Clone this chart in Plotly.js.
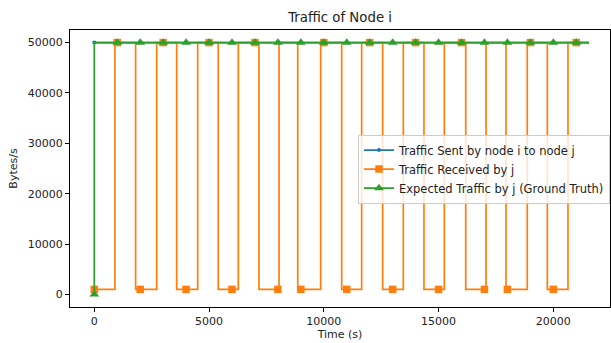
<!DOCTYPE html>
<html>
<head>
<meta charset="utf-8">
<script src="https://cdn.plot.ly/plotly-3.0.1.min.js"></script>
<style>html,body{margin:0;padding:0;background:#fff;}#chart{width:611px;height:343px;}</style>
</head>
<body>
<div id="chart"></div>
<script>
// Traffic sent by node i to node j
const sentTime = [0, 21555];
const sentValue = [50000, 50000];
const sentMarkTime = [0];
const sentMarkValue = [50000];

// Traffic received by j (step transitions)
const recvTime = [0, 900, 1800, 2720, 3590, 4505, 5400, 6275, 7175, 8050, 8865, 9865, 10780, 11650, 12565, 13465, 14365, 15250, 16185, 17070, 17940, 18865, 19740, 20640, 21555];
const recvValue = [1000, 50000, 1000, 50000, 1000, 50000, 1000, 50000, 1000, 50000, 1000, 50000, 1000, 50000, 1000, 50000, 1000, 50000, 1000, 50000, 1000, 50000, 1000, 50000, 50000];
const recvMarkTime = [0, 1000, 2000, 3000, 4000, 5000, 6000, 7000, 8000, 9000, 10000, 11000, 12000, 13000, 14000, 15000, 16000, 17000, 18000, 19000, 20000, 21000];
const recvMarkValue = [1000, 50000, 1000, 50000, 1000, 50000, 1000, 50000, 1000, 1000, 50000, 1000, 50000, 1000, 50000, 1000, 50000, 1000, 1000, 50000, 1000, 50000];

// Expected traffic by j (ground truth)
const expTime = [0, 0, 21555];
const expValue = [0, 50000, 50000];
const expMarkTime = [0, 1000, 2000, 3000, 4000, 5000, 6000, 7000, 8000, 9000, 10000, 11000, 12000, 13000, 14000, 15000, 16000, 17000, 18000, 19000, 20000, 21000];
const expMarkValue = [0, 50000, 50000, 50000, 50000, 50000, 50000, 50000, 50000, 50000, 50000, 50000, 50000, 50000, 50000, 50000, 50000, 50000, 50000, 50000, 50000, 50000];

const xTicks = [0, 5000, 10000, 15000, 20000];
const yTicks = [0, 10000, 20000, 30000, 40000, 50000];

const names = ['Traffic Sent by node i to node j', 'Traffic Received by j', 'Expected Traffic by j (Ground Truth)'];
const colors = ['#1f77b4', '#ff7f0e', '#2ca02c'];

const traces = [
  {x: sentTime, y: sentValue, mode: 'lines', line: {color: colors[0], width: 1.7}, showlegend: false},
  {x: sentMarkTime, y: sentMarkValue, mode: 'markers', marker: {color: colors[0], size: 4, symbol: 'circle'}, showlegend: false},
  {x: recvTime, y: recvValue, mode: 'lines', line: {color: colors[1], width: 1.7, shape: 'hv'}, showlegend: false},
  {x: recvMarkTime, y: recvMarkValue, mode: 'markers', marker: {color: colors[1], size: 7.5, symbol: 'square'}, showlegend: false},
  {x: expTime, y: expValue, mode: 'lines', line: {color: colors[2], width: 1.7}, showlegend: false},
  {x: expMarkTime, y: expMarkValue, mode: 'markers', marker: {color: colors[2], size: 8.5, symbol: 'triangle-up'}, showlegend: false},
  {x: [null], y: [null], name: names[0], mode: 'lines+markers', line: {color: colors[0], width: 1.7}, marker: {color: colors[0], size: 4, symbol: 'circle'}},
  {x: [null], y: [null], name: names[1], mode: 'lines+markers', line: {color: colors[1], width: 1.7}, marker: {color: colors[1], size: 7.5, symbol: 'square'}},
  {x: [null], y: [null], name: names[2], mode: 'lines+markers', line: {color: colors[2], width: 1.7}, marker: {color: colors[2], size: 8.5, symbol: 'triangle-up'}}
];

const fontC = {family: 'DejaVu Sans', size: 11, color: '#222'};

const axisCommon = {
  showgrid: false, zeroline: false, showline: true, mirror: true,
  linecolor: '#000', linewidth: 1, ticks: 'outside', ticklen: 4, tickwidth: 1, tickcolor: '#000',
  tickfont: fontC, automargin: false
};

const layout = {
  width: 611, height: 343,
  margin: {l: 70, r: 1, t: 30, b: 36},
  paper_bgcolor: '#fff', plot_bgcolor: '#fff',
  font: fontC,
  title: {text: 'Traffic of Node i', font: {family: 'DejaVu Sans', size: 13.3, color: '#222'}, x: 0.5566, xanchor: 'center', y: 0.95, yanchor: 'middle'},
  xaxis: Object.assign({}, axisCommon, {
    range: [-1059, 22471], tickvals: xTicks, ticktext: xTicks.map(String),
    title: {text: 'Time (s)', font: fontC, standoff: 3}
  }),
  yaxis: Object.assign({}, axisCommon, {
    range: [-2500, 52500], tickvals: yTicks, ticktext: yTicks.map(String),
    title: {text: 'Bytes/s', font: fontC, standoff: 7}
  }),
  legend: {
    x: 1.0, y: 0.498, xanchor: 'right', yanchor: 'middle',
    bgcolor: 'rgba(255,255,255,0.8)', bordercolor: '#cccccc', borderwidth: 1,
    font: {family: 'DejaVu Sans', size: 11.5, color: '#222'},
    itemwidth: 30, tracegroupgap: 0
  },
  showlegend: true
};

Plotly.newPlot('chart', traces, layout, {staticPlot: true, displayModeBar: false});
</script>
</body>
</html>
